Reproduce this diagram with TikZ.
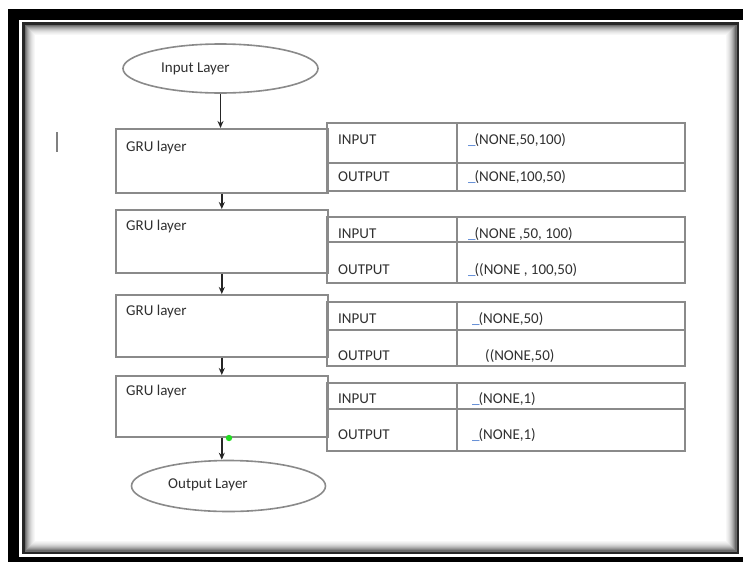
\documentclass[tikz,border=0pt]{standalone}
\usepackage{fontspec}
\setmainfont{Carlito}
\usetikzlibrary{arrows.meta,shapes}
\definecolor{txtgray}{HTML}{303030}
\definecolor{linegray}{HTML}{8A8A8A}
\definecolor{markblue}{HTML}{4F7FD0}
\definecolor{dotgreen}{HTML}{22DD22}

\begin{document}
\begin{tikzpicture}[x=1pt, y=-1pt, every node/.style={font=\fontsize{15}{18}\selectfont, text=txtgray},
    box/.style={draw=linegray, line width=1.6pt, rectangle, anchor=north west, minimum width=212pt, inner sep=0pt},
    layer/.style={draw=linegray, line width=1.6pt, ellipse, inner sep=0pt},
    txt/.style={anchor=base west, inner sep=0pt},
    cell/.style={draw=linegray, line width=1.6pt},
    arr/.style={-{Stealth[length=7pt,width=6pt]}, draw=black!85, line width=1.4pt}]
      \useasboundingbox (0,0) rectangle (743,562);

      % frame
      \fill[black] (8,9) rectangle (743,562);
      \fill[white] (19,20) rectangle (743,557);
      \foreach \i/\g in {11/3,10/6,9/9,8/13,7/18,6/24,5/31,4/39,3/48,2/58}
        \draw[black!\g, line width=1.2pt] (23.5+\i,23.5+\i) rectangle (738-\i,553-\i);
      \draw[black!85, line width=2.5pt] (23.5,23.5) rectangle (738,553);

      \draw[black!50, line width=1.6pt] (57,132) -- (57,152);

      \node[layer, minimum width=195pt, minimum height=49pt] at (220.5,68.5) (inp) {};
      \node[txt] at (161,72) (inptxt) {Input Layer};

      \node[box, minimum height=64pt] at (115,128) (gru1) {};
      \node[box, minimum height=63pt] at (115,209) (gru2) {};
      \node[box, minimum height=62pt] at (115,294) (gru3) {};
      \node[box, minimum height=61pt] at (115,375) (gru4) {};

      \node[txt] at (126,151) (gru1txt) {GRU layer};
      \node[txt] at (126,230) (gru2txt) {GRU layer};
      \node[txt] at (126,315) (gru3txt) {GRU layer};
      \node[txt] at (126,395) (gru4txt) {GRU layer};

      \node[layer, minimum width=194pt, minimum height=51pt] at (228.5,486) (outp) {};
      \node[txt] at (168,488) (outptxt) {Output Layer};

      % tables
      \draw[cell] (327,123) rectangle (685,191);
      \draw[cell] (327,163) -- (685,163);
      \draw[cell] (457,123) -- (457,191);

      \draw[cell] (327,217) rectangle (685,283);
      \draw[cell] (327,242) -- (685,242);
      \draw[cell] (457,217) -- (457,283);

      \draw[cell] (327,302) rectangle (685,366);
      \draw[cell] (327,330) -- (685,330);
      \draw[cell] (457,302) -- (457,366);

      \draw[cell] (327,383) rectangle (685,451);
      \draw[cell] (327,409) -- (685,409);
      \draw[cell] (457,383) -- (457,451);

      \node[txt] at (338,144.5) (in1) {INPUT};
      \node[txt] at (338,181) (out1) {OUTPUT};
      \node[txt] at (468,144.5) (in1v) {{\color{markblue}\_}\kern-1pt(NONE,50,100)};
      \node[txt] at (468,181) (out1v) {{\color{markblue}\_}\kern-1pt(NONE,100,50)};

      \node[txt] at (338,238) (in2) {INPUT};
      \node[txt] at (338,274) (out2) {OUTPUT};
      \node[txt] at (468,238) (in2v) {{\color{markblue}\_}\kern-1pt(NONE ,50, 100)};
      \node[txt] at (468,274) (out2v) {{\color{markblue}\_}\kern-1pt((NONE , 100,50)};

      \node[txt] at (472,323) (in3v) {{\color{markblue}\_}\kern-1pt(NONE,50)};
      \node[txt] at (338,323) (in3) {INPUT};
      \node[txt] at (338,360) (out3) {OUTPUT};
      \node[txt] at (485,360) (out3v) {((NONE,50)};

      \node[txt] at (338,403) (in4) {INPUT};
      \node[txt] at (338,439) (out4) {OUTPUT};
      \node[txt] at (472,403) (in4v) {{\color{markblue}\_}\kern-1pt(NONE,1)};
      \node[txt] at (472,439) (out4v) {{\color{markblue}\_}\kern-1pt(NONE,1)};

      \draw[arr] (inp.south) -- (inp.south |- gru1.north);
      \draw[arr] (gru1.south) -- (gru2.north);
      \draw[arr] (gru2.south) -- (gru3.north);
      \draw[arr] (gru3.south) -- (gru4.north);
      \draw[arr] (gru4.south) -- (gru4.south |- outp.north);

      \fill[dotgreen] (229,438) circle (3.2pt);
    \end{tikzpicture}
\end{document}
